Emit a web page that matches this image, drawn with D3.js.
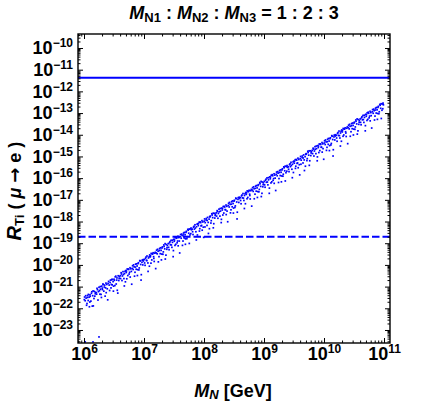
<!DOCTYPE html>
<html>
<head>
<meta charset="utf-8">
<script src="https://cdn.jsdelivr.net/npm/d3@7"></script>
<style>
  body { margin: 0; background: #fff; }
  svg text { font-family: "Liberation Sans", Arial, sans-serif; font-weight: bold; }
</style>
</head>
<body>
<div id="chart"></div>
<script>
// decades shown on the axes
const xExponents = [6, 7, 8, 9, 10, 11];
const yExponents = [-23, -22, -21, -20, -19, -18, -17, -16, -15, -14, -13, -12, -11, -10];

// experimental bounds on R_Ti(mu -> e)
const limitCurrent = 4.3e-12;   // solid line
const limitFuture = 2e-19;      // dashed line

// scan points as [log10 M_N, log10 R_Ti]
const scanPoints = [
  [6.01,-21.48],[6.02,-21.65],[6.035,-21.53],[6.05,-21.78],[6.06,-21.41],[6.07,-21.64],[6.085,-21.49],[6.09,-21.93],
  [6.10,-21.38],[6.115,-21.67],[6.13,-21.24],[6.145,-21.42],[6.155,-21.89],[6.17,-21.22],[6.18,-21.44],[6.19,-21.26],
  [6.21,-21.35],[6.225,-21.14],[6.24,-21.23],[6.25,-21.03],[6.265,-21.35],[6.275,-21.12],[6.29,-21.50],[6.295,-20.98],
  [6.305,-21.07],[6.32,-20.91],[6.33,-21.21],[6.345,-20.93],[6.36,-21.06],[6.37,-21.28],[6.38,-20.90],[6.395,-21.61],
  [6.41,-20.76],[6.42,-20.93],[6.435,-20.81],[6.45,-21.06],[6.46,-20.69],[6.47,-20.92],[6.485,-20.77],[6.49,-21.21],
  [6.50,-20.66],[6.515,-20.95],[6.53,-20.52],[6.545,-20.70],[6.555,-21.17],[6.57,-20.50],[6.58,-20.72],[6.59,-20.54],
  [6.61,-20.63],[6.625,-20.42],[6.64,-20.51],[6.65,-20.31],[6.665,-20.63],[6.675,-20.40],[6.69,-20.78],[6.695,-20.26],
  [6.705,-20.35],[6.72,-20.19],[6.73,-20.49],[6.745,-20.21],[6.76,-20.34],[6.77,-20.56],[6.78,-20.18],[6.795,-20.89],
  [6.81,-20.04],[6.82,-20.21],[6.835,-20.09],[6.85,-20.34],[6.86,-19.97],[6.87,-20.20],[6.885,-20.05],[6.89,-20.49],
  [6.90,-19.94],[6.915,-20.23],[6.93,-19.80],[6.945,-19.98],[6.955,-20.45],[6.97,-19.78],[6.98,-20.00],[6.99,-19.82],
  [7.01,-19.91],[7.025,-19.70],[7.04,-19.79],[7.05,-19.59],[7.065,-19.91],[7.075,-19.68],[7.09,-20.06],[7.095,-19.54],
  [7.105,-19.63],[7.12,-19.47],[7.13,-19.77],[7.145,-19.49],[7.16,-19.62],[7.17,-19.84],[7.18,-19.46],[7.195,-20.17],
  [7.21,-19.32],[7.22,-19.49],[7.235,-19.37],[7.25,-19.62],[7.26,-19.25],[7.27,-19.48],[7.285,-19.33],[7.29,-19.77],
  [7.30,-19.22],[7.315,-19.51],[7.33,-19.08],[7.345,-19.26],[7.355,-19.73],[7.37,-19.06],[7.38,-19.28],[7.39,-19.10],
  [7.41,-19.19],[7.425,-18.98],[7.44,-19.07],[7.45,-18.87],[7.465,-19.19],[7.475,-18.96],[7.49,-19.34],[7.495,-18.82],
  [7.505,-18.91],[7.52,-18.75],[7.53,-19.05],[7.545,-18.77],[7.56,-18.90],[7.57,-19.12],[7.58,-18.74],[7.595,-19.45],
  [7.61,-18.60],[7.62,-18.77],[7.635,-18.65],[7.65,-18.90],[7.66,-18.53],[7.67,-18.76],[7.685,-18.61],[7.69,-19.05],
  [7.70,-18.50],[7.715,-18.79],[7.73,-18.36],[7.745,-18.54],[7.755,-19.01],[7.77,-18.34],[7.78,-18.56],[7.79,-18.38],
  [7.81,-18.47],[7.825,-18.26],[7.84,-18.35],[7.85,-18.15],[7.865,-18.47],[7.875,-18.24],[7.89,-18.62],[7.895,-18.10],
  [7.905,-18.19],[7.92,-18.03],[7.93,-18.33],[7.945,-18.05],[7.96,-18.18],[7.97,-18.40],[7.98,-18.02],[7.995,-18.73],
  [8.01,-17.88],[8.02,-18.05],[8.035,-17.93],[8.05,-18.18],[8.06,-17.81],[8.07,-18.04],[8.085,-17.89],[8.09,-18.33],
  [8.10,-17.78],[8.115,-18.07],[8.13,-17.64],[8.145,-17.82],[8.155,-18.29],[8.17,-17.62],[8.18,-17.84],[8.19,-17.66],
  [8.21,-17.75],[8.225,-17.54],[8.24,-17.63],[8.25,-17.43],[8.265,-17.75],[8.275,-17.52],[8.29,-17.90],[8.295,-17.38],
  [8.305,-17.47],[8.32,-17.31],[8.33,-17.61],[8.345,-17.33],[8.36,-17.46],[8.37,-17.68],[8.38,-17.30],[8.395,-18.01],
  [8.41,-17.16],[8.42,-17.33],[8.435,-17.21],[8.45,-17.46],[8.46,-17.09],[8.47,-17.32],[8.485,-17.17],[8.49,-17.61],
  [8.50,-17.06],[8.515,-17.35],[8.53,-16.92],[8.545,-17.10],[8.555,-17.57],[8.57,-16.90],[8.58,-17.12],[8.59,-16.94],
  [8.61,-17.03],[8.625,-16.82],[8.64,-16.91],[8.65,-16.71],[8.665,-17.03],[8.675,-16.80],[8.69,-17.18],[8.695,-16.66],
  [8.705,-16.75],[8.72,-16.59],[8.73,-16.89],[8.745,-16.61],[8.76,-16.74],[8.77,-16.96],[8.78,-16.58],[8.795,-17.29],
  [8.81,-16.44],[8.82,-16.61],[8.835,-16.49],[8.85,-16.74],[8.86,-16.37],[8.87,-16.60],[8.885,-16.45],[8.89,-16.89],
  [8.90,-16.34],[8.915,-16.63],[8.93,-16.20],[8.945,-16.38],[8.955,-16.85],[8.97,-16.18],[8.98,-16.40],[8.99,-16.22],
  [9.01,-16.31],[9.025,-16.10],[9.04,-16.19],[9.05,-15.99],[9.065,-16.31],[9.075,-16.08],[9.09,-16.46],[9.095,-15.94],
  [9.105,-16.03],[9.12,-15.87],[9.13,-16.17],[9.145,-15.89],[9.16,-16.02],[9.17,-16.24],[9.18,-15.86],[9.195,-16.57],
  [9.21,-15.72],[9.22,-15.89],[9.235,-15.77],[9.25,-16.02],[9.26,-15.65],[9.27,-15.88],[9.285,-15.73],[9.29,-16.17],
  [9.30,-15.62],[9.315,-15.91],[9.33,-15.48],[9.345,-15.66],[9.355,-16.13],[9.37,-15.46],[9.38,-15.68],[9.39,-15.50],
  [9.41,-15.59],[9.425,-15.38],[9.44,-15.47],[9.45,-15.27],[9.465,-15.59],[9.475,-15.36],[9.49,-15.74],[9.495,-15.22],
  [9.505,-15.31],[9.52,-15.15],[9.53,-15.45],[9.545,-15.17],[9.56,-15.30],[9.57,-15.52],[9.58,-15.14],[9.595,-15.85],
  [9.61,-15.00],[9.62,-15.17],[9.635,-15.05],[9.65,-15.30],[9.66,-14.93],[9.67,-15.16],[9.685,-15.01],[9.69,-15.45],
  [9.70,-14.90],[9.715,-15.19],[9.73,-14.76],[9.745,-14.94],[9.755,-15.41],[9.77,-14.74],[9.78,-14.96],[9.79,-14.78],
  [9.81,-14.87],[9.825,-14.66],[9.84,-14.75],[9.85,-14.55],[9.865,-14.87],[9.875,-14.64],[9.89,-15.02],[9.895,-14.50],
  [9.905,-14.59],[9.92,-14.43],[9.93,-14.73],[9.945,-14.45],[9.96,-14.58],[9.97,-14.80],[9.98,-14.42],[9.995,-15.13],
  [10.01,-14.28],[10.02,-14.45],[10.035,-14.33],[10.05,-14.58],[10.06,-14.21],[10.07,-14.44],[10.085,-14.29],[10.09,-14.73],
  [10.10,-14.18],[10.115,-14.47],[10.13,-14.04],[10.145,-14.22],[10.155,-14.69],[10.17,-14.02],[10.18,-14.24],[10.19,-14.06],
  [10.21,-14.15],[10.225,-13.94],[10.24,-14.03],[10.25,-13.83],[10.265,-14.15],[10.275,-13.92],[10.29,-14.30],[10.295,-13.78],
  [10.305,-13.87],[10.32,-13.71],[10.33,-14.01],[10.345,-13.73],[10.36,-13.86],[10.37,-14.08],[10.38,-13.70],[10.395,-14.41],
  [10.41,-13.56],[10.42,-13.73],[10.435,-13.61],[10.45,-13.86],[10.46,-13.49],[10.47,-13.72],[10.485,-13.57],[10.49,-14.01],
  [10.50,-13.46],[10.515,-13.75],[10.53,-13.32],[10.545,-13.50],[10.555,-13.97],[10.57,-13.30],[10.58,-13.52],[10.59,-13.34],
  [10.61,-13.43],[10.625,-13.22],[10.64,-13.31],[10.65,-13.11],[10.665,-13.43],[10.675,-13.20],[10.69,-13.58],[10.695,-13.06],
  [10.705,-13.15],[10.72,-12.99],[10.73,-13.29],[10.745,-13.01],[10.76,-13.14],[10.77,-13.36],[10.78,-12.98],[10.795,-13.69],
  [10.81,-12.84],[10.82,-13.01],[10.835,-12.89],[10.85,-13.14],[10.86,-12.77],[10.87,-13.00],[10.885,-12.85],[10.89,-13.29],
  [10.90,-12.74],[10.915,-13.03],[10.93,-12.60],[10.945,-12.78],[10.955,-13.25],[10.97,-12.58],[10.98,-12.80],[10.99,-12.62],
  // second pass over the band
  [6.005,-21.60],[6.028,-21.42],[6.043,-21.86],[6.057,-21.50],[6.074,-21.36],[6.097,-21.71],
  [6.103,-21.45],[6.124,-21.31],[6.138,-21.90],[6.151,-21.20],[6.166,-21.55],[6.188,-21.33],
  [6.204,-21.28],[6.217,-21.08],[6.233,-21.62],[6.258,-21.19],[6.271,-21.00],[6.284,-21.36],
  [6.308,-21.14],[6.316,-20.88],[6.339,-21.02],[6.352,-21.44],[6.366,-20.84],[6.388,-21.10],
  [6.402,-20.85],[6.427,-21.18],[6.441,-20.70],[6.455,-20.90],[6.468,-20.66],[6.493,-20.98],
  [6.506,-20.71],[6.521,-20.55],[6.537,-20.88],[6.549,-20.60],[6.563,-21.30],[6.586,-20.62],
  [6.604,-20.50],[6.619,-20.36],[6.633,-20.72],[6.658,-20.44],[6.672,-20.97],[6.684,-20.30],
  [6.707,-20.28],[6.713,-20.64],[6.738,-20.19],[6.752,-20.42],[6.767,-20.13],[6.789,-20.30],
  [6.803,-20.16],[6.826,-20.00],[6.842,-20.52],[6.857,-20.10],[6.873,-19.95],[6.894,-20.22],
  [6.907,-19.90],[6.921,-20.14],[6.936,-19.82],[6.951,-20.70],[6.966,-19.88],[6.985,-19.76],
  [7.003,-19.75],[7.018,-20.02],[7.033,-19.64],[7.047,-19.80],[7.068,-20.30],[7.086,-19.62],
  [7.108,-19.58],[7.116,-19.92],[7.137,-19.50],[7.152,-19.44],[7.164,-19.70],[7.188,-19.42],
  [7.204,-19.45],[7.226,-19.28],[7.239,-19.86],[7.255,-19.34],[7.274,-19.21],[7.296,-19.50],
  [7.306,-19.17],[7.322,-19.40],[7.335,-19.15],[7.352,-19.02],[7.366,-19.55],[7.384,-19.20],
  [7.403,-19.02],[7.418,-19.30],[7.433,-18.93],[7.456,-19.08],[7.471,-18.86],[7.486,-19.62],
  [7.508,-18.85],[7.516,-19.10],[7.537,-18.72],[7.552,-18.98],[7.566,-18.68],[7.588,-18.90],
  [7.604,-18.70],[7.628,-18.58],[7.641,-19.10],[7.656,-18.62],[7.674,-18.50],[7.693,-18.80],
  [7.706,-18.45],[7.721,-18.70],[7.737,-18.40],[7.752,-18.35],[7.766,-18.62],[7.784,-18.30],
  [7.803,-18.35],[7.817,-18.60],[7.834,-18.22],[7.856,-18.30],[7.872,-18.85],[7.886,-18.12],
  [7.908,-18.10],[7.924,-18.44],[7.938,-18.02],[7.951,-18.20],[7.966,-17.96],[7.988,-18.26],
  [8.004,-17.98],[8.016,-18.25],[8.038,-17.86],[8.053,-17.95],[8.074,-18.55],[8.094,-17.78],
  [8.106,-17.75],[8.121,-17.96],[8.136,-17.70],[8.152,-17.62],[8.163,-18.10],[8.186,-17.72],
  [8.203,-17.60],[8.219,-17.50],[8.232,-17.85],[8.254,-17.55],[8.271,-17.40],[8.287,-18.05],
  [8.308,-17.40],[8.314,-17.70],[8.338,-17.30],[8.353,-17.45],[8.367,-17.24],[8.384,-17.52],
  [8.404,-17.26],[8.425,-17.12],[8.441,-17.60],[8.455,-17.20],[8.474,-17.05],[8.493,-17.38],
  [8.506,-17.02],[8.522,-17.28],[8.535,-16.95],[8.551,-17.88],[8.566,-16.98],[8.587,-16.88],
  [8.603,-16.90],[8.618,-17.18],[8.633,-16.78],[8.657,-16.92],[8.673,-17.40],[8.684,-16.72],
  [8.708,-16.68],[8.717,-16.95],[8.736,-16.62],[8.752,-16.56],[8.764,-16.80],[8.788,-16.52],
  [8.804,-16.55],[8.826,-16.40],[8.838,-16.95],[8.856,-16.47],[8.874,-16.34],[8.896,-16.62],
  [8.906,-16.30],[8.922,-16.52],[8.934,-16.26],[8.952,-16.15],[8.966,-16.70],[8.986,-16.30],
  [9.003,-16.15],[9.018,-16.42],[9.033,-16.05],[9.056,-16.18],[9.072,-15.98],[9.088,-16.70],
  [9.108,-15.95],[9.116,-16.22],[9.137,-15.84],[9.152,-16.10],[9.168,-15.80],[9.186,-16.00],
  [9.204,-15.82],[9.228,-15.70],[9.242,-16.20],[9.256,-15.74],[9.276,-15.62],[9.294,-15.90],
  [9.306,-15.57],[9.321,-15.82],[9.336,-15.52],[9.352,-15.45],[9.366,-15.75],[9.384,-15.42],
  [9.403,-15.48],[9.417,-15.70],[9.434,-15.34],[9.456,-15.42],[9.472,-15.98],[9.486,-15.25],
  [9.508,-15.22],[9.524,-15.55],[9.538,-15.14],[9.551,-15.32],[9.566,-15.08],[9.588,-15.38],
  [9.604,-15.10],[9.616,-15.36],[9.638,-14.98],[9.653,-15.07],[9.674,-15.65],[9.694,-14.90],
  [9.706,-14.87],[9.721,-15.10],[9.736,-14.82],[9.752,-14.74],[9.763,-15.20],[9.786,-14.84],
  [9.803,-14.72],[9.819,-14.62],[9.832,-14.98],[9.854,-14.67],[9.871,-14.52],[9.887,-15.20],
  [9.908,-14.52],[9.914,-14.82],[9.938,-14.42],[9.953,-14.57],[9.967,-14.36],[9.984,-14.64],
  [10.004,-14.38],[10.025,-14.24],[10.041,-14.72],[10.055,-14.32],[10.074,-14.17],[10.093,-14.50],
  [10.106,-14.14],[10.122,-14.40],[10.135,-14.07],[10.151,-14.98],[10.166,-14.10],[10.187,-14.00],
  [10.203,-14.02],[10.218,-14.30],[10.233,-13.90],[10.257,-14.04],[10.273,-14.52],[10.284,-13.84],
  [10.308,-13.80],[10.317,-14.07],[10.336,-13.74],[10.352,-13.68],[10.364,-13.92],[10.388,-13.64],
  [10.404,-13.67],[10.426,-13.52],[10.438,-14.07],[10.456,-13.59],[10.474,-13.46],[10.496,-13.74],
  [10.506,-13.42],[10.522,-13.64],[10.534,-13.38],[10.552,-13.27],[10.566,-13.82],[10.586,-13.42],
  [10.603,-13.27],[10.618,-13.54],[10.633,-13.17],[10.656,-13.30],[10.672,-13.10],[10.688,-13.82],
  [10.708,-13.07],[10.716,-13.34],[10.737,-12.96],[10.752,-13.22],[10.768,-12.92],[10.786,-13.12],
  [10.804,-12.94],[10.828,-12.82],[10.842,-13.32],[10.856,-12.86],[10.876,-12.74],[10.894,-13.02],
  [10.906,-12.69],[10.921,-12.94],[10.936,-12.64],[10.952,-12.57],[10.966,-12.87],[10.984,-12.54]
];

// a few stray points sitting at the bottom edge
const strayPoints = [[6.02,-23.55],[6.15,-23.55],[6.25,-23.32]];

const margin = { top: 34, right: 35, bottom: 63, left: 78 };
const W = 425, H = 406;
const width = W - margin.left - margin.right;
const height = H - margin.top - margin.bottom;
const font = '"Liberation Sans", Arial, sans-serif';

const svg = d3.select('#chart').append('svg')
    .attr('width', W)
    .attr('height', H);

const g = svg.append('g').attr('transform', 'translate(' + margin.left + ',' + margin.top + ')');

const x = d3.scaleLog().domain([Math.pow(10, 5.9), Math.pow(10, 11.1)]).range([0, width]);
const y = d3.scaleLog().domain([Math.pow(10, -23.6), Math.pow(10, -9.355)]).range([height, 0]);

// tick positions
const xMajor = xExponents.map(e => Math.pow(10, e));
const yMajor = yExponents.map(e => Math.pow(10, e));
function minors(scale) {
    const [lo, hi] = scale.domain();
    const out = [];
    for (let e = Math.floor(Math.log10(lo)); e <= Math.ceil(Math.log10(hi)); e++) {
        for (let k = 2; k <= 9; k++) {
            const v = k * Math.pow(10, e);
            if (v >= lo && v <= hi) out.push(v);
        }
    }
    return out;
}
const xMinor = minors(x);
const yMinor = minors(y);

g.append('defs').append('clipPath').attr('id', 'plot-clip')
    .append('rect').attr('width', width).attr('height', height);

// points
const plot = g.append('g').attr('clip-path', 'url(#plot-clip)');
plot.selectAll('rect.pt')
    .data(scanPoints.concat(strayPoints))
    .enter()
    .append('rect')
    .attr('class', 'pt')
    .attr('x', d => x(Math.pow(10, d[0])) - 0.85)
    .attr('y', d => y(Math.pow(10, d[1])) - 0.85)
    .attr('width', 1.7)
    .attr('height', 1.7)
    .attr('fill', '#0000ff');

// bound lines
plot.append('line')
    .attr('x1', 0).attr('x2', width)
    .attr('y1', y(limitCurrent)).attr('y2', y(limitCurrent))
    .attr('stroke', '#0000ff')
    .attr('stroke-width', 2);

plot.append('line')
    .attr('x1', 0).attr('x2', width)
    .attr('y1', y(limitFuture)).attr('y2', y(limitFuture))
    .attr('stroke', '#0000ff')
    .attr('stroke-width', 2)
    .attr('stroke-dasharray', '7.5,3');

// axes, ticks pointing into the frame
function addAxis(axis, tx, ty, values, size, labels) {
    const a = g.append('g')
        .attr('transform', 'translate(' + tx + ',' + ty + ')')
        .call(axis.tickValues(values).tickSize(-size).tickPadding(labels ? labels : 3)
            .tickFormat(labels ? (d => d) : () => ''));
    a.select('.domain').remove();
    a.selectAll('.tick line').attr('stroke', '#000').attr('stroke-width', 1);
    return a;
}

function powerLabel(sel) {
    sel.selectAll('.tick text').each(function (d) {
        const t = d3.select(this);
        const e = Math.round(Math.log10(d));
        t.text(null)
            .attr('font-family', font)
            .attr('font-weight', 'bold')
            .attr('font-size', 18)
            .attr('fill', '#000');
        t.append('tspan').text('10');
        t.append('tspan')
            .attr('dy', -7)
            .attr('font-size', 12)
            .text(e < 0 ? '\u2212' + (-e) : e);
    });
}

addAxis(d3.axisBottom(x), 0, height, xMinor, 2.5);
addAxis(d3.axisTop(x), 0, 0, xMinor, 2.5);
addAxis(d3.axisTop(x), 0, 0, xMajor, 5);
addAxis(d3.axisLeft(y), 0, 0, yMinor, 2.5);
addAxis(d3.axisRight(y), width, 0, yMinor, 2.5);
addAxis(d3.axisRight(y), width, 0, yMajor, 5);
powerLabel(addAxis(d3.axisBottom(x), 0, height, xMajor, 5, 4));
powerLabel(addAxis(d3.axisLeft(y), 0, 0, yMajor, 5, 5));

// frame
g.append('rect')
    .attr('width', width)
    .attr('height', height)
    .attr('fill', 'none')
    .attr('stroke', '#000')
    .attr('stroke-width', 1.4);

// title
const title = svg.append('text')
    .attr('x', margin.left + width / 2)
    .attr('y', 18.5)
    .attr('text-anchor', 'middle')
    .style('font-size', '18px');
[['1', ' : '], ['2', ' : '], ['3', ' = 1 : 2 : 3']].forEach(p => {
    title.append('tspan').style('font-style', 'italic').text('M');
    title.append('tspan').attr('dy', 3).style('font-size', '13px').text('N' + p[0]);
    title.append('tspan').attr('dy', -3).text(p[1]);
});

// x label
const xLabel = svg.append('text')
    .attr('x', margin.left + width / 2 - 1)
    .attr('y', 397)
    .attr('text-anchor', 'middle')
    .style('font-size', '18px');
xLabel.append('tspan').style('font-style', 'italic').text('M');
xLabel.append('tspan').attr('dy', 2).style('font-size', '13px').style('font-style', 'italic').text('N');
xLabel.append('tspan').attr('dy', -2).text(' [GeV]');

// y label
const yLabel = svg.append('text')
    .attr('transform', 'translate(21,191) rotate(-90)')
    .attr('text-anchor', 'middle')
    .style('font-size', '18px');
yLabel.append('tspan').style('font-style', 'italic').style('font-size', '20px').text('R');
yLabel.append('tspan').attr('dy', 3).style('font-size', '13px').text('Ti');
yLabel.append('tspan').attr('dy', -3).text(' ( ');
yLabel.append('tspan').style('font-style', 'italic').text('\u03bc');
yLabel.append('tspan').text(' ');
yLabel.append('tspan').style('font-family', '"DejaVu Sans", sans-serif').text('\u2192');
yLabel.append('tspan').text(' e )');
</script>
</body>
</html>
